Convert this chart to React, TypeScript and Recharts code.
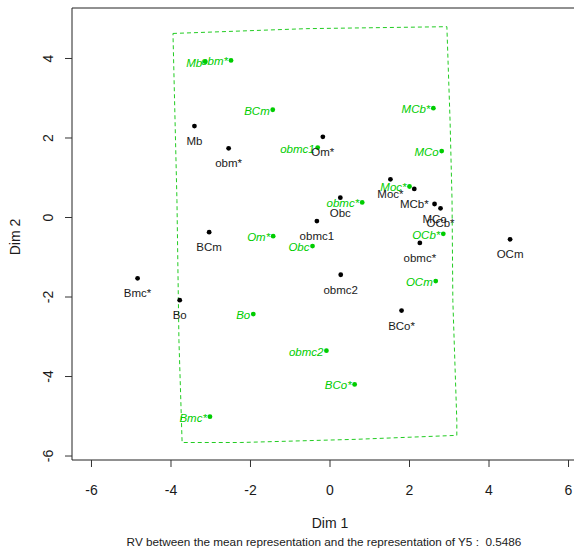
import React from "react";
import { ScatterChart, Scatter, XAxis, YAxis, ReferenceArea, Customized } from "recharts";

// Mean representation (black)
const meanNames = ["Mb", "obm*", "Om*", "Moc*", "MCb*", "MCo", "OCb*", "Obc", "obmc1", "obmc*", "BCm", "Bmc*", "Bo", "obmc2", "BCo*", "OCm"];
const meanX = [-3.41, -2.55, -0.18, 1.52, 2.12, 2.63, 2.78, 0.26, -0.33, 2.26, -3.04, -4.84, -3.78, 0.27, 1.8, 4.53];
const meanY = [2.3, 1.74, 2.03, 0.96, 0.72, 0.34, 0.23, 0.5, -0.09, -0.64, -0.37, -1.53, -2.08, -1.44, -2.34, -0.55];

// Representation of Y5 (green)
const y5Names = ["Mb", "obm*", "BCm", "MCb*", "obmc1", "MCo", "Moc*", "obmc*", "Om*", "Obc", "OCb*", "OCm", "Bo", "obmc2", "BCo*", "Bmc*"];
const y5X = [-3.14, -2.49, -1.44, 2.6, -0.31, 2.81, 2.0, 0.81, -1.43, -0.44, 2.85, 2.66, -1.93, -0.09, 0.62, -3.02];
const y5Y = [3.92, 3.95, 2.71, 2.75, 1.76, 1.67, 0.78, 0.38, -0.47, -0.72, -0.41, -1.6, -2.43, -3.35, -4.2, -5.01];

// Outline around the Y5 configuration
const hullX = [-3.95, -0.6, 2.94, 3.02, 3.07, 3.09, 3.19, 3.19, 0.65, -2.26, -3.72, -3.8, -3.85, -3.95];
const hullY = [4.63, 4.75, 4.8, 2.44, 0.43, -2.09, -5.11, -5.48, -5.58, -5.66, -5.66, -3.09, 0.43, 4.63];

const xTicks = [-6, -4, -2, 0, 2, 4, 6];
const yTicks = [-6, -4, -2, 0, 2, 4];
const xDomain: [number, number] = [-6.49, 6.49];
const yDomain: [number, number] = [-6.1, 5.27];

const subtitle = "RV between the mean representation and the representation of Y5 :  0.5486";

const meanData = meanNames.map((name, i) => ({ name, x: meanX[i], y: meanY[i] }));
const y5Data = y5Names.map((name, i) => ({ name, x: y5X[i], y: y5Y[i] }));
const hullData = hullX.map((x, i) => ({ x, y: hullY[i] }));

const FONT = "'Liberation Sans', Arial, Helvetica, sans-serif";
const GREEN = "#00CD00";
const INK = "#1a1a1a";

const MeanPoint = (props: any) => {
  const { cx, cy, payload } = props;
  return (
    <g>
      <circle cx={cx} cy={cy} r={2.4} fill="#000" />
      <text x={cx} y={cy + 19} textAnchor="middle" fontFamily={FONT} fontSize={11.5} fill={INK}>
        {payload.name}
      </text>
    </g>
  );
};

const Y5Point = (props: any) => {
  const { cx, cy, payload } = props;
  return (
    <g>
      <circle cx={cx} cy={cy} r={2.4} fill={GREEN} />
      <text x={cx - 3} y={cy + 5} textAnchor="end" fontFamily={FONT} fontSize={11.5} fontStyle="italic" fill={GREEN}>
        {payload.name}
      </text>
    </g>
  );
};

const NoMark = () => <g />;

const XTick = (props: any) => {
  const { x, y, payload } = props;
  return (
    <text x={x} y={y + 28} textAnchor="middle" fontFamily={FONT} fontSize={14} fill={INK}>
      {payload.value}
    </text>
  );
};

const YTick = (props: any) => {
  const { x, y, payload } = props;
  const tx = x - 12;
  return (
    <text x={tx} y={y} transform={`rotate(-90 ${tx} ${y})`} textAnchor="middle" fontFamily={FONT} fontSize={14} fill={INK}>
      {payload.value}
    </text>
  );
};

const Titles = () => (
  <g fontFamily={FONT} fill={INK}>
    <text x={330} y={528} textAnchor="middle" fontSize={14}>Dim 1</text>
    <text x={20} y={237} transform="rotate(-90 20 237)" textAnchor="middle" fontSize={14}>Dim 2</text>
    <text x={324} y={546} textAnchor="middle" fontSize={11.75} style={{ whiteSpace: "pre" }}>{subtitle}</text>
  </g>
);

export default function App() {
  return (
    <div style={{ position: "absolute", left: 0, top: 0, width: 574, height: 550, overflow: "hidden", background: "#fff" }}>
      <ScatterChart width={600} height={550} margin={{ top: 8, right: 12, bottom: 60, left: 22 }}>
        <XAxis
          type="number"
          dataKey="x"
          domain={xDomain}
          ticks={xTicks}
          allowDataOverflow
          height={30}
          axisLine={false}
          tickSize={7}
          tickMargin={0}
          tickLine={{ stroke: "#333" }}
          tick={<XTick />}
        />
        <YAxis
          type="number"
          dataKey="y"
          domain={yDomain}
          ticks={yTicks}
          allowDataOverflow
          width={50}
          axisLine={false}
          tickSize={7}
          tickMargin={0}
          tickLine={{ stroke: "#333" }}
          tick={<YTick />}
        />
        <ReferenceArea x1={xDomain[0]} x2={xDomain[1]} y1={yDomain[0]} y2={yDomain[1]} fill="none" fillOpacity={0} stroke="#222" strokeWidth={1} ifOverflow="visible" />
        <Scatter
          data={hullData}
          line={{ stroke: "#22CC22", strokeWidth: 1, strokeDasharray: "4 3" }}
          lineType="joint"
          shape={<NoMark />}
          isAnimationActive={false}
        />
        <Scatter data={y5Data} shape={<Y5Point />} isAnimationActive={false} />
        <Scatter data={meanData} shape={<MeanPoint />} isAnimationActive={false} />
        <Customized component={Titles} />
      </ScatterChart>
    </div>
  );
}
